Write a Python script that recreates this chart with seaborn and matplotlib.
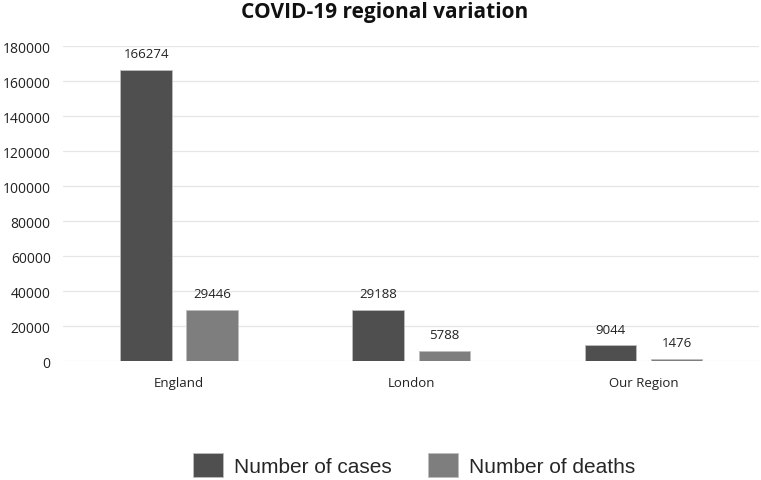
import pandas as pd
import matplotlib.pyplot as plt
import seaborn as sns

# Data
regions = ['England', 'London', 'Our Region']
cases = [166274, 29188, 9044]
deaths = [29446, 5788, 1476]
series = ['Number of cases', 'Number of deaths']
colors = ['#4f4f4f', '#7e7e7e']
yticks = [0, 20000, 40000, 60000, 80000, 100000, 120000, 140000, 160000, 180000]

df = pd.DataFrame({
    'region': regions * 2,
    'series': [series[0]] * 3 + [series[1]] * 3,
    'value': cases + deaths,
})

sns.set_theme(style="white")
plt.rcParams['font.family'] = ['Open Sans', 'DejaVu Sans']

fig = plt.figure(figsize=(7.61, 4.81), dpi=100)
ax = fig.add_axes([0.083, 0.247, 0.915, 0.655])

sns.barplot(data=df, x='region', y='value', hue='series', order=regions,
            hue_order=series, palette=colors, width=0.57, gap=0.22,
            edgecolor='#bdbdbd', linewidth=0.6, ax=ax, legend=True)

for cont in ax.containers:
    ax.bar_label(cont, fmt='%d', padding=7, fontsize=9.5, color='#222222')

ax.set_ylim(0, 180000)
ax.set_yticks(yticks)
ax.set_yticklabels([str(t) for t in yticks], fontsize=10, color='#222222')
ax.tick_params(axis='x', labelsize=9.5, colors='#222222', pad=11, length=0)
ax.tick_params(axis='y', length=0, pad=9)
ax.set_xlabel('')
ax.set_ylabel('')
ax.yaxis.grid(True, color='#e6e6e6', linewidth=0.9)
ax.set_axisbelow(True)
sns.despine(ax=ax, left=True, bottom=True)

fig.suptitle('COVID-19 regional variation', x=0.505, y=0.975, fontsize=15,
             fontweight='bold', color='#111111', va='center')

handles, labels = ax.get_legend_handles_labels()
ax.get_legend().remove()
fig.legend(handles, labels, loc='center', bbox_to_anchor=(0.544, 0.031), ncol=2,
           frameon=False, handlelength=1.45, handleheight=1.4,
           columnspacing=1.75, handletextpad=0.5,
           prop={'family': ['Liberation Sans', 'DejaVu Sans'], 'size': 15})

fig.savefig('out.png', dpi=100)
